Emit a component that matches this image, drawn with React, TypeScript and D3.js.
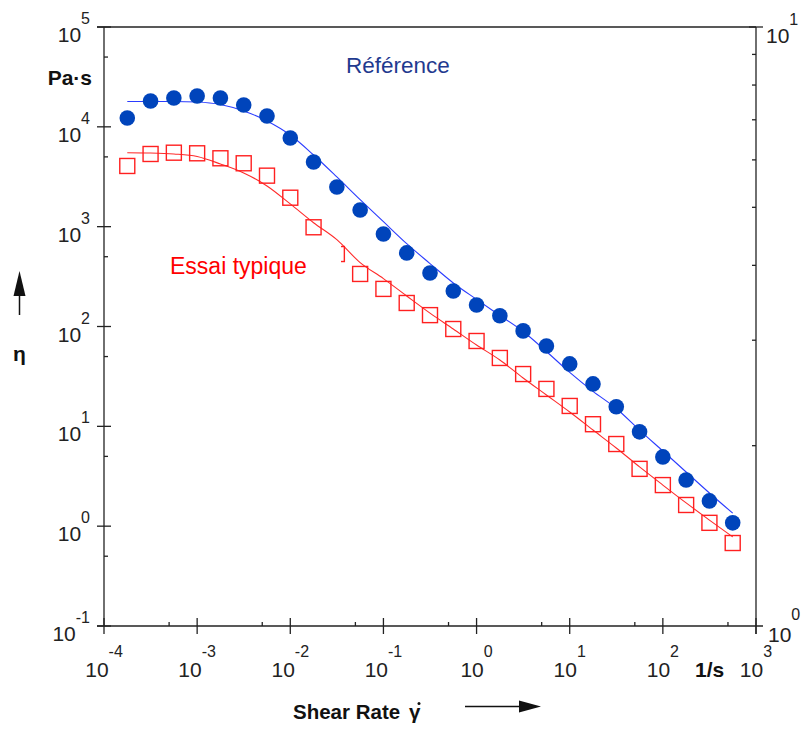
import React from 'react';
import * as d3 from 'd3';

// Shear rate (1/s)
const shearRate = [1.778e-4, 3.162e-4, 5.623e-4, 1e-3, 1.778e-3, 3.162e-3, 5.623e-3, 0.01, 0.01778, 0.03162, 0.05623, 0.1, 0.1778, 0.3162, 0.5623, 1, 1.778, 3.162, 5.623, 10, 17.78, 31.62, 56.23, 100, 177.8, 316.2, 562.3];
// Viscosity (Pa·s)
const referenceEta = [12270, 18160, 19450, 20370, 19450, 16560, 12850, 7727, 4446, 2500, 1469, 845, 546, 344, 227, 164, 128, 90.4, 63.8, 42.2, 26.6, 15.7, 8.81, 4.94, 2.9, 1.79, 1.08];
const typicalEta = [4055, 5346, 5508, 5433, 4842, 4315, 3243, 1950, 986, 532, 336, 238, 172, 130, 94.4, 71.6, 48.4, 33.4, 23.7, 16.0, 10.5, 6.65, 3.75, 2.58, 1.63, 1.08, 0.678];
const referenceFit = [17950, 17950, 17950, 17740, 16750, 14420, 11460, 8279, 5224, 3148, 1866, 1122, 676, 427, 273, 187, 129, 89.1, 56.2, 34.7, 22.4, 15.1, 9.18, 5.66, 3.49, 2.15, 1.35];
const typicalFit = [5508, 5470, 5346, 5047, 4246, 3451, 2559, 1690, 1096, 741, 437, 302, 202, 136, 94.4, 65.3, 46.2, 30.5, 20.6, 13.9, 9.18, 6.07, 3.92, 2.58, 1.71, 1.15, 0.78];

const xExponents = [-4, -3, -2, -1, 0, 1, 2, 3];
const yExponents = [-1, 0, 1, 2, 3, 4, 5];
const rightTicks = [2, 3, 4, 5, 6, 7, 8, 9];

const FONT = 'Liberation Sans, Arial, Helvetica, sans-serif';
const AX = '#222';

export default function App() {
  const x = d3.scaleLog().domain([1e-4, 1e3]).range([104, 756]);
  const y = d3.scaleLog().domain([1e-1, 1e5]).range([626, 27]);
  const yR = d3.scaleLog().domain([1, 10]).range([626, 27]);

  const [xl, xr] = x.range();
  const [yb, yt] = y.range();

  const line = d3
    .line<[number, number]>()
    .x((d) => x(d[0]))
    .y((d) => y(d[1]))
    .curve(d3.curveMonotoneX);

  const refFitPath = line(shearRate.map((s, i) => [s, referenceFit[i]]) as [number, number][]) || '';
  const typFitPath = line(shearRate.map((s, i) => [s, typicalFit[i]]) as [number, number][]) || '';

  const sq = 15;

  return (
    <svg
      width={803}
      height={731}
      style={{ position: 'absolute', left: 0, top: 0, background: '#fff' }}
      fontFamily={FONT}
    >
      <rect x={0} y={0} width={803} height={731} fill="#fff" />

      {/* fitted lines */}
      <path d={refFitPath} fill="none" stroke="#2b3cff" strokeWidth={1.1} />
      <path d={typFitPath} fill="none" stroke="#ff2a2a" strokeWidth={1.1} />

      {/* reference dots */}
      {shearRate.map((s, i) => (
        <circle key={'r' + i} cx={x(s)} cy={y(referenceEta[i])} r={7.8} fill="#0044bb" />
      ))}
      {/* typical squares */}
      {shearRate.map((s, i) => (
        <rect
          key={'t' + i}
          x={x(s) - sq / 2}
          y={y(typicalEta[i]) - sq / 2}
          width={sq}
          height={sq}
          fill="none"
          stroke="#ff2020"
          strokeWidth={1.4}
        />
      ))}

      {/* label box hiding part of the data */}
      <rect x={160} y={244} width={181} height={46} fill="#fff" />
      <text x={170} y={274} fontSize={23} fill="#ff0000">Essai typique</text>
      <text x={346} y={73} fontSize={22.5} fill="#1f3a8f">Référence</text>

      {/* frame */}
      <line x1={xl} y1={yt} x2={xl} y2={yb} stroke={AX} strokeWidth={1.3} />
      <line x1={xr} y1={yt} x2={xr} y2={yb + 8} stroke={AX} strokeWidth={1.3} />
      <line x1={xl - 7} y1={yt} x2={xr} y2={yt} stroke={AX} strokeWidth={1.3} />
      <line x1={xl - 7} y1={yb} x2={xr + 7} y2={yb} stroke={AX} strokeWidth={1.3} />
      <line x1={xr - 7} y1={yt} x2={xr + 7} y2={yt} stroke={AX} strokeWidth={1.3} />

      {/* left axis ticks */}
      {yExponents.map((e) => (
        <line key={'ly' + e} x1={xl - 7} x2={xl + 7} y1={y(Math.pow(10, e))} y2={y(Math.pow(10, e))} stroke={AX} strokeWidth={1.3} />
      ))}
      {yExponents.slice(0, -1).map((e) => (
        <line key={'lym' + e} x1={xl} x2={xl + 4} y1={y(5 * Math.pow(10, e))} y2={y(5 * Math.pow(10, e))} stroke={AX} strokeWidth={1.3} />
      ))}
      {yExponents.map((e) => (
        <text key={'lyl' + e} x={90} y={y(Math.pow(10, e)) + 15} fontSize={21} textAnchor="end" fill="#222">
          10
          <tspan fontSize={16} dy={-18}>{e}</tspan>
        </text>
      ))}

      {/* bottom axis ticks */}
      {xExponents.map((e) => (
        <line key={'bx' + e} x1={x(Math.pow(10, e))} x2={x(Math.pow(10, e))} y1={yb - 8} y2={yb + 8} stroke={AX} strokeWidth={1.3} />
      ))}
      {xExponents.slice(0, -1).map((e) => (
        <line key={'bxm' + e} x1={x(5 * Math.pow(10, e))} x2={x(5 * Math.pow(10, e))} y1={yb - 4} y2={yb} stroke={AX} strokeWidth={1.3} />
      ))}
      {xExponents.map((e) => (
        <text key={'bxl' + e} x={x(Math.pow(10, e))} y={677} fontSize={21} textAnchor="middle" fill="#222">
          10
          <tspan fontSize={16} dy={-20}>{e}</tspan>
        </text>
      ))}

      {/* right axis */}
      {rightTicks.map((t) => (
        <line key={'ry' + t} x1={xr - 4} x2={xr} y1={yR(t)} y2={yR(t)} stroke={AX} strokeWidth={1.3} />
      ))}
      <text x={766} y={yR(10) + 16} fontSize={21} fill="#222">
        10
        <tspan fontSize={16} dy={-18}>1</tspan>
      </text>
      <text x={768} y={yR(1) + 16} fontSize={21} fill="#222">
        10
        <tspan fontSize={16} dy={-22}>0</tspan>
      </text>

      {/* axis titles */}
      <text x={92} y={85} fontSize={21} fontWeight="bold" textAnchor="end" fill="#111">Pa·s</text>
      <text x={695} y={677} fontSize={21} fontWeight="bold" fill="#111">1/s</text>
      <text x={19.5} y={361} fontSize={21} fontWeight="bold" textAnchor="middle" fill="#111">η</text>
      <line x1={19.5} y1={315} x2={19.5} y2={292} stroke="#111" strokeWidth={1.5} />
      <polygon points="19.5,271 13.5,296 25.5,296" fill="#111" />

      <text x={293} y={719} fontSize={20.5} fontWeight="bold" fill="#111">Shear Rate</text>
      <text x={409} y={719} fontSize={20.5} fontWeight="bold" fill="#111">γ</text>
      <circle cx={419} cy={703.5} r={1.5} fill="#111" />
      <line x1={465} y1={706.5} x2={522} y2={706.5} stroke="#111" strokeWidth={1.5} />
      <polygon points="541,706.5 519,700.5 519,712.5" fill="#111" />
    </svg>
  );
}
